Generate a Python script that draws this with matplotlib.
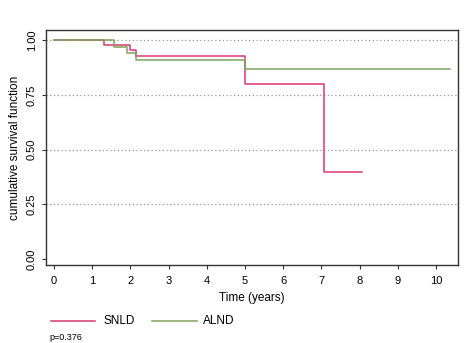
import numpy as np
import matplotlib.pyplot as plt

plt.rcParams['font.family'] = ['Liberation Sans', 'DejaVu Sans']

# step times (years) and survival values
snld_t = [0, 1.32, 2.0, 2.15, 5.0, 7.07, 8.05]
snld_s = [1.0, 0.98, 0.956, 0.93, 0.80, 0.40, 0.40]
alnd_t = [0, 1.57, 1.9, 2.15, 5.0, 10.37]
alnd_s = [1.0, 0.969, 0.94, 0.912, 0.871, 0.871]
p_text = "p=0.376"

red = '#D9396F'
green = '#7FA35E'

fig = plt.figure(figsize=(4.71, 3.43), dpi=100)
ax = fig.add_axes([0.0977, 0.227, 0.875, 0.685])

ax.step(snld_t, snld_s, where='post', color=red, lw=1.1)
ax.step(alnd_t, alnd_s, where='post', color=green, lw=1.1)

for yv in [0.25, 0.5, 0.75, 1.0]:
    ax.axhline(yv, color='#999999', ls=(0, (1, 2)), lw=0.9, zorder=0)

ax.set_xlim(-0.21, 10.58)
ax.set_ylim(-0.027, 1.046)
ax.set_xticks(range(11))
ax.set_yticks([0, 0.25, 0.5, 0.75, 1.0])
ax.set_yticklabels(['0.00', '0.25', '0.50', '0.75', '1.00'], rotation=90, va='center')
ax.tick_params(labelsize=8, length=3, width=0.8, color='#333333')
ax.tick_params(axis='x', pad=5)
ax.set_xlabel('Time (years)', fontsize=8.5, labelpad=4)
ax.set_ylabel('cumulative survival function', fontsize=8.5, labelpad=4)
for s in ax.spines.values():
    s.set_linewidth(1.0)
    s.set_color('#333333')

# legend below plot
fig.lines.append(plt.Line2D([51/471, 95/471], [1-321/343, 1-321/343], color=red, lw=1.1, transform=fig.transFigure))
fig.text(103/471, 1-321/343, 'SNLD', fontsize=8.5, va='center')
fig.lines.append(plt.Line2D([152/471, 197/471], [1-321/343, 1-321/343], color=green, lw=1.1, transform=fig.transFigure))
fig.text(203/471, 1-321/343, 'ALND', fontsize=8.5, va='center')
fig.text(49/471, 1-337/343, p_text, fontsize=6.5, va='center')

fig.savefig('out.png', dpi=100)
